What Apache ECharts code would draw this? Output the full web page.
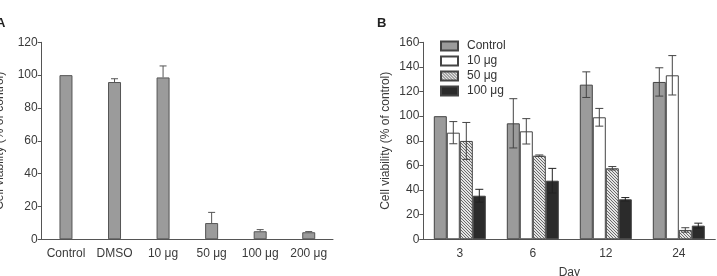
<!DOCTYPE html>
<html>
<head>
<meta charset="utf-8">
<script src="https://cdn.jsdelivr.net/npm/echarts@6/dist/echarts.min.js"></script>
<style>
  html, body { margin: 0; padding: 0; background: #fff; }
  #chart { width: 717px; height: 276px; }
</style>
</head>
<body>
<div id="chart"></div>
<script>
// panel A: single dose series
const catsA = ['Control', 'DMSO', '10 μg', '50 μg', '100 μg', '200 μg']
const valsA = [100, 95.8, 98.6, 9.9, 4.9, 4.3]
const errA = [0, 2, 7, 6.5, 1, 0.4]

// panel B: viability by day
const daysB = ['3', '6', '12', '24']
const namesB = ['Control', '10 μg', '50 μg', '100 μg']
const controlB = [100, 94.2, 125.6, 127.8]
const controlErr = [0, 20, 10.4, 11.5]
const ten = [86.6, 87.7, 99.1, 133.2]
const tenErr = [9, 10.3, 7.2, 16]
const fifty = [79.9, 67.9, 57.7, 7.6]
const fiftyErr = [15, 0.6, 1.4, 1.8]
const hundred = [35.4, 47.6, 32.5, 11.1]
const hundredErr = [5.2, 10, 1.4, 2]

const ticksA = { min: 0, max: 120, interval: 20 }
const ticksB = { min: 0, max: 160, interval: 20 }

const axisGray = '#555'
const textGray = '#3a3a3a'
const barW = 13

function hatch() {
  const c = document.createElement('canvas')
  c.width = 3
  c.height = 3
  const ctx = c.getContext('2d')
  ctx.fillStyle = '#e4e4e4'
  ctx.fillRect(0, 0, 3, 3)
  ctx.fillStyle = '#6a6a6a'
  for (let i = 0; i < 3; i++) ctx.fillRect(i, i, 1, 1)
  return c
}

const fillsB = ['#9b9b9b', '#ffffff', { image: hatch(), repeat: 'repeat' }, '#2b2b2b']
const valuesB = [controlB, ten, fifty, hundred]
const errorsB = [controlErr, tenErr, fiftyErr, hundredErr]

function yAxisBase(ticks, gridIndex, nameGap) {
  return {
    type: 'value',
    gridIndex,
    ...ticks,
    name: 'Cell viability (% of control)',
    nameLocation: 'middle',
    nameGap,
    nameTextStyle: { fontSize: 12, color: textGray, fontFamily: 'Liberation Sans' },
    axisLine: { show: true, lineStyle: { color: axisGray } },
    axisTick: { show: true, length: 4, lineStyle: { color: axisGray } },
    axisLabel: { fontSize: 12, color: textGray, margin: 4, fontFamily: 'Liberation Sans' },
    splitLine: { show: false }
  }
}

function xAxisBase(data, gridIndex) {
  return {
    type: 'category',
    gridIndex,
    data,
    axisLine: { lineStyle: { color: axisGray } },
    axisTick: { length: 4, lineStyle: { color: axisGray } },
    axisLabel: { interval: 0, fontSize: 12, color: textGray, margin: 8, fontFamily: 'Liberation Sans' }
  }
}

// upper-only error bars for panel A
function errorA() {
  return {
    type: 'custom',
    xAxisIndex: 0,
    yAxisIndex: 0,
    z: 5,
    data: valsA.map((v, i) => [i, v, v + errA[i]]),
    renderItem(params, api) {
      const base = api.coord([api.value(0), api.value(1)])
      const top = api.coord([api.value(0), api.value(2)])
      if (api.value(2) - api.value(1) <= 0) return null
      const style = { stroke: '#555', lineWidth: 1 }
      return {
        type: 'group',
        children: [
          { type: 'line', shape: { x1: base[0], y1: base[1], x2: top[0], y2: top[1] }, style },
          { type: 'line', shape: { x1: top[0] - 3.5, y1: top[1], x2: top[0] + 3.5, y2: top[1] }, style }
        ]
      }
    }
  }
}

// two-sided error bars for each series of panel B
function errorB(k) {
  return {
    type: 'custom',
    xAxisIndex: 1,
    yAxisIndex: 1,
    z: 5,
    data: valuesB[k].map((v, i) => [i, v - errorsB[k][i], v + errorsB[k][i]]),
    renderItem(params, api) {
      if (api.value(2) - api.value(1) <= 0) return null
      const lo = api.coord([api.value(0), api.value(1)])
      const hi = api.coord([api.value(0), api.value(2)])
      const x = lo[0] + (k - 1.5) * barW
      const style = { stroke: k === 3 ? '#222' : '#444', lineWidth: 1 }
      return {
        type: 'group',
        children: [
          { type: 'line', shape: { x1: x, y1: lo[1], x2: x, y2: hi[1] }, style },
          { type: 'line', shape: { x1: x - 4, y1: hi[1], x2: x + 4, y2: hi[1] }, style },
          { type: 'line', shape: { x1: x - 4, y1: lo[1], x2: x + 4, y2: lo[1] }, style }
        ]
      }
    }
  }
}

const chart = echarts.init(document.getElementById('chart'))
chart.setOption({
  animation: false,
  textStyle: { fontFamily: 'Liberation Sans' },
  title: [
    { text: 'A', left: -4, top: 17, padding: 0, textStyle: { fontSize: 13, fontWeight: 'bold', color: '#222' } },
    { text: 'B', left: 377, top: 17, padding: 0, textStyle: { fontSize: 13, fontWeight: 'bold', color: '#222' } }
  ],
  legend: {
    orient: 'vertical',
    left: 440,
    top: 40,
    padding: 0,
    icon: 'rect',
    itemWidth: 17,
    itemHeight: 9,
    itemGap: 3,
    textStyle: { fontSize: 12, color: '#333', padding: [0, 0, 0, 4] },
    data: namesB
  },
  grid: [
    { left: 41.7, top: 42.3, width: 291.3, height: 197, outerBoundsMode: 'none', containLabel: false },
    { left: 423.3, top: 42.3, width: 292, height: 197, outerBoundsMode: 'none', containLabel: false }
  ],
  xAxis: [
    xAxisBase(catsA, 0),
    {
      ...xAxisBase(daysB, 1),
      name: 'Day',
      nameLocation: 'middle',
      nameGap: 27,
      nameTextStyle: { fontSize: 12, color: textGray }
    }
  ],
  yAxis: [yAxisBase(ticksA, 0, 36), yAxisBase(ticksB, 1, 32)],
  series: [
    {
      type: 'bar',
      xAxisIndex: 0,
      yAxisIndex: 0,
      data: valsA,
      barWidth: barW,
      itemStyle: { color: '#9b9b9b', borderColor: '#555', borderWidth: 1 }
    },
    errorA(),
    ...namesB.map((name, k) => ({
      type: 'bar',
      name,
      xAxisIndex: 1,
      yAxisIndex: 1,
      data: valuesB[k],
      barWidth: barW,
      barGap: '0%',
      itemStyle: { color: fillsB[k], borderColor: '#444', borderWidth: 1 }
    })),
    ...namesB.map((_, k) => errorB(k))
  ]
})
</script>
</body>
</html>
